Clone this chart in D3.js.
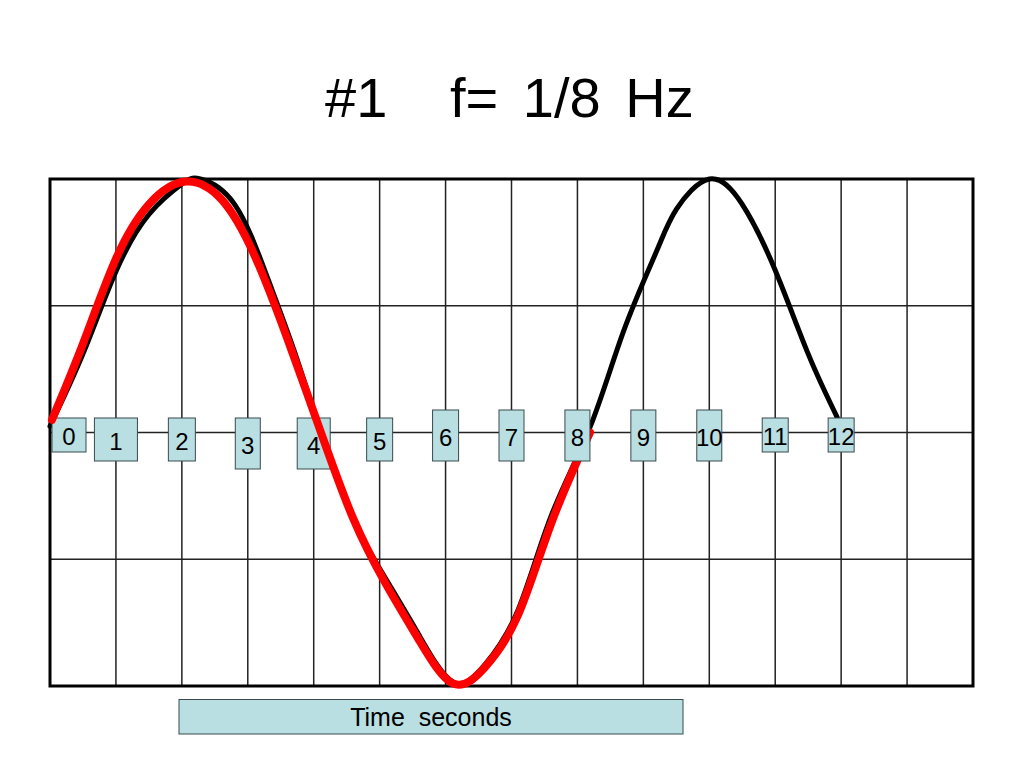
<!DOCTYPE html>
<html>
<head>
<meta charset="utf-8">
<script src="https://cdn.jsdelivr.net/npm/d3@7"></script>
<style>
  html, body { margin: 0; padding: 0; background: #fff; }
  svg { display: block; font-family: "Liberation Sans", Arial, sans-serif; }
</style>
</head>
<body>
<svg id="chart" width="1024" height="768"></svg>
<script>
// ---- data ----
const titleLeft = "#1";
const titleRight = "f= 1/8 Hz";
const axisLabel = "Time  seconds";
const timeTicks = [0, 1, 2, 3, 4, 5, 6, 7, 8, 9, 10, 11, 12];
// black (hand-drawn) wave: time in seconds, amplitude in grid units
const blackT = [0, 0.5, 1.0, 1.5, 2.0, 2.28, 2.8, 3.3, 3.7, 4.11, 4.6, 5.1, 5.6, 6.12, 6.6, 7.1, 7.6, 8.19, 8.7, 9.2, 9.5, 10.0, 10.5, 11.0, 11.5, 11.94];
const blackV = [0.05, 0.62, 1.27, 1.72, 1.96, 2.0, 1.80, 1.22, 0.65, 0, -0.68, -1.16, -1.60, -1.97, -1.83, -1.40, -0.66, 0.04, 0.80, 1.43, 1.76, 2.0, 1.80, 1.28, 0.62, 0.12];
// red wave (one period of f = 1/8 Hz)
const redT = [0.03, 0.5, 1.0, 1.5, 2.05, 2.6, 3.1, 3.6, 4.11, 4.6, 5.1, 5.6, 6.11, 6.6, 7.1, 7.6, 8.19];
const redV = [0.10, 0.70, 1.37, 1.80, 1.98, 1.84, 1.40, 0.74, 0, -0.68, -1.20, -1.64, -1.98, -1.85, -1.44, -0.72, 0];

// ---- layout (label box shapes, not data) ----
const boxW = [34, 43, 27, 25, 33, 26, 26, 25, 25, 25, 25, 26, 26];
const boxH = [34, 43, 43, 51, 51, 43, 51, 51, 51, 51, 51, 34, 34];
const boxTop = [-14.5, -14.5, -14.5, -14.5, -14.5, -14.5, -22.5, -22.5, -22.5, -22.5, -22.5, -14.5, -14.5];
const firstBoxAboveRed = 8;

const svg = d3.select("#chart");
const gLeft = 50, gRight = 973, gTop = 179, gBottom = 686;
const x = d3.scaleLinear().domain([0, 14]).range([gLeft, gRight]);
const y = d3.scaleLinear().domain([-2, 2]).range([gBottom, gTop]);

// title
svg.append("text").attr("x", 325).attr("y", 117).attr("font-size", 56).attr("fill", "#000").text(titleLeft);
svg.append("text").attr("x", 450).attr("y", 117).attr("font-size", 56).attr("word-spacing", 9)
  .attr("fill", "#000").text(titleRight);

// grid
const grid = svg.append("g");
grid.selectAll("line.v").data(d3.range(1, 14)).join("line")
  .attr("x1", d => x(d)).attr("x2", d => x(d)).attr("y1", gTop).attr("y2", gBottom)
  .attr("stroke", "#222").attr("stroke-width", 1.5);
grid.selectAll("line.h").data([-1, 0, 1]).join("line")
  .attr("x1", gLeft).attr("x2", gRight).attr("y1", d => y(d)).attr("y2", d => y(d))
  .attr("stroke", "#222").attr("stroke-width", 1.5);
grid.append("rect").attr("x", gLeft).attr("y", gTop).attr("width", gRight - gLeft).attr("height", gBottom - gTop)
  .attr("fill", "none").attr("stroke", "#000").attr("stroke-width", 3);

const line = d3.line().x(d => x(d[0])).y(d => y(d[1])).curve(d3.curveNatural);

// black curve
svg.append("path").datum(blackT.map((t, i) => [t, blackV[i]]))
  .attr("d", line).attr("fill", "none").attr("stroke", "#000").attr("stroke-width", 5)
  .attr("stroke-linecap", "round").attr("stroke-linejoin", "round");

function drawBoxes(idx) {
  const mid = y(0);
  const g = svg.append("g");
  idx.forEach(i => {
    const t = timeTicks[i];
    const w = boxW[i], h = boxH[i];
    let cx = x(t);
    if (cx - w / 2 < x(0) + 2) cx = x(0) + 2 + w / 2;
    const ty = mid + boxTop[i];
    g.append("rect").attr("x", cx - w / 2).attr("y", ty).attr("width", w).attr("height", h)
      .attr("fill", "#b9dfe2").attr("stroke", "#3a4a4c").attr("stroke-width", 1);
    g.append("text").attr("x", cx).attr("y", ty + h / 2 + 1.5)
      .attr("text-anchor", "middle").attr("dominant-baseline", "central")
      .attr("font-size", 24).attr("fill", "#000").text(String(t));
  });
}

drawBoxes(d3.range(0, firstBoxAboveRed));

// red curve
svg.append("path").datum(redT.map((t, i) => [t, redV[i]]))
  .attr("d", line).attr("fill", "none").attr("stroke", "#ff0000").attr("stroke-width", 8)
  .attr("stroke-linecap", "round").attr("stroke-linejoin", "round");

drawBoxes(d3.range(firstBoxAboveRed, timeTicks.length));

// axis label box
svg.append("rect").attr("x", 179).attr("y", 699.5).attr("width", 504).attr("height", 34.5)
  .attr("fill", "#b9dfe2").attr("stroke", "#3a4a4c").attr("stroke-width", 1);
svg.append("text").attr("x", 431).attr("y", 726).attr("text-anchor", "middle")
  .attr("font-size", 25).attr("fill", "#000").attr("xml:space", "preserve")
  .style("white-space", "pre").text(axisLabel);
</script>
</body>
</html>
